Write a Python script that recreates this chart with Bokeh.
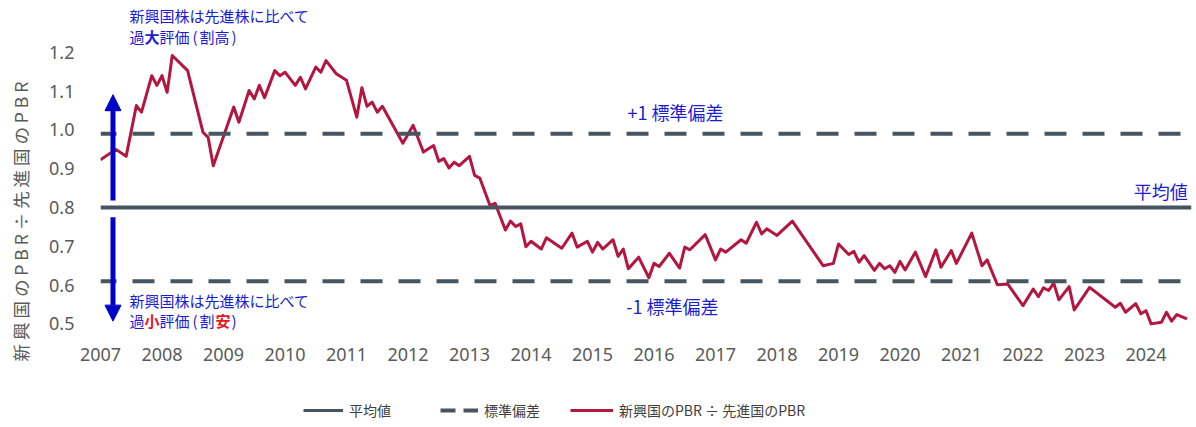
import math
from bokeh.plotting import figure
from bokeh.layouts import row, column
from bokeh.models import (Span, Label, Arrow, NormalHead, Legend, LegendItem,
                          FixedTicker, Range1d, PrintfTickFormatter, ColumnDataSource)
from bokeh.embed import file_html
from bokeh.resources import INLINE

# ---------------- data ----------------
dates = [
    "2007-01", "2007-04", "2007-06", "2007-08", "2007-09", "2007-11", "2007-12",
    "2008-01", "2008-02", "2008-03", "2008-06", "2008-09", "2008-10", "2008-11",
    "2009-03", "2009-04", "2009-06", "2009-07", "2009-08", "2009-09", "2009-11", "2009-12",
    "2010-01", "2010-03", "2010-04", "2010-05", "2010-07", "2010-08", "2010-09", "2010-11",
    "2011-01", "2011-03", "2011-04", "2011-05", "2011-06", "2011-07", "2011-08", "2011-12",
    "2012-02", "2012-04", "2012-06", "2012-07", "2012-08", "2012-09", "2012-10", "2012-11",
    "2013-01", "2013-02", "2013-03", "2013-05", "2013-06", "2013-08", "2013-09", "2013-10",
    "2013-11", "2013-12",
    "2014-01", "2014-03", "2014-04", "2014-07", "2014-09", "2014-10", "2014-12",
    "2015-01", "2015-02", "2015-03", "2015-05", "2015-06", "2015-07", "2015-08", "2015-10",
    "2015-12",
    "2016-01", "2016-02", "2016-04", "2016-06", "2016-07", "2016-08", "2016-11",
    "2017-01", "2017-02", "2017-03", "2017-06", "2017-07", "2017-09", "2017-10", "2017-11",
    "2018-01", "2018-04", "2018-10", "2018-12",
    "2019-01", "2019-03", "2019-04", "2019-05", "2019-06", "2019-08", "2019-09", "2019-10",
    "2019-11", "2019-12",
    "2020-01", "2020-02", "2020-04", "2020-06", "2020-08", "2020-09", "2020-11", "2020-12",
    "2021-03", "2021-05", "2021-06", "2021-08", "2021-10",
    "2022-01", "2022-03", "2022-04", "2022-05", "2022-06", "2022-07", "2022-08", "2022-10",
    "2022-11",
    "2023-02", "2023-07", "2023-08", "2023-09", "2023-11", "2023-12",
    "2024-01", "2024-02", "2024-04", "2024-05", "2024-06", "2024-07", "2024-09",
]
ratio = [
    0.923, 0.950, 0.932, 1.063, 1.046, 1.140, 1.115,
    1.140, 1.097, 1.192, 1.153, 0.994, 0.981, 0.908,
    1.059, 1.020, 1.102, 1.080, 1.115, 1.083, 1.153, 1.140,
    1.149, 1.115, 1.136, 1.106, 1.162, 1.149, 1.179, 1.145,
    1.128, 1.033, 1.109, 1.061, 1.072, 1.046, 1.061, 0.966,
    1.012, 0.943, 0.960, 0.919, 0.926, 0.902, 0.917, 0.908,
    0.932, 0.883, 0.876, 0.805, 0.811, 0.742, 0.765, 0.751,
    0.758, 0.699,
    0.713, 0.693, 0.722, 0.695, 0.734, 0.698, 0.713,
    0.685, 0.710, 0.693, 0.717, 0.674, 0.693, 0.642, 0.672,
    0.619,
    0.656, 0.648, 0.682, 0.644, 0.698, 0.691, 0.730,
    0.665, 0.693, 0.685, 0.717, 0.708, 0.762, 0.732, 0.745,
    0.728, 0.765, 0.650, 0.656,
    0.706, 0.679, 0.687, 0.659, 0.676, 0.638, 0.656, 0.642,
    0.650, 0.633,
    0.661, 0.639, 0.685, 0.622, 0.691, 0.646, 0.689, 0.656,
    0.734, 0.650, 0.665, 0.601, 0.603,
    0.547, 0.590, 0.570, 0.593, 0.586, 0.605, 0.562, 0.596,
    0.536,
    0.594, 0.543, 0.553, 0.530, 0.552, 0.526,
    0.534, 0.500, 0.504, 0.530, 0.507, 0.524, 0.513,
]
MEAN = 0.80
SD = 0.19
x_ticks = list(range(2007, 2025))
y_ticks = [0.5, 0.6, 0.7, 0.8, 0.9, 1.0, 1.1, 1.2]

series_label = "新興国のPBR ÷ 先進国のPBR"
mean_label = "平均値"
sd_label = "標準偏差"
y_title = "新 興 国 の P B R ÷ 先 進 国 の P B R"
upper_label = "+1 標準偏差"
lower_label = "-1 標準偏差"
over_line1 = "新興国株は先進株に比べて"
under_line1 = "新興国株は先進株に比べて"

# ---------------- styles ----------------
RED = "#B3163F"
SLATE = "#465560"
BLUE_TXT = "#1C1CD2"
BLUE_ARROW = "#0000CC"
RED_TXT = "#E8141E"
GRAY = "#5a5a5a"
JP = "Noto Sans CJK JP"


def bare(fig):
    fig.outline_line_color = None
    fig.xgrid.grid_line_color = None
    fig.ygrid.grid_line_color = None
    fig.background_fill_color = "white"
    fig.border_fill_color = "white"
    return fig


xs = [int(d[:4]) + (int(d[5:7]) - 1) / 12 for d in dates]
src = ColumnDataSource(dict(x=xs, y=ratio))

# ---------------- main chart ----------------
p = bare(figure(width=1156, height=375, output_backend="svg", toolbar_location=None,
                x_range=Range1d(2007.0, 2024.74), y_range=Range1d(0.470, 1.321),
                min_border_left=60, min_border_right=5, min_border_top=5,
                min_border_bottom=40))

for ax in (p.xaxis[0], p.yaxis[0]):
    ax.axis_line_color = None
    ax.major_tick_line_color = None
    ax.minor_tick_line_color = None
    ax.major_label_text_color = GRAY
    ax.major_label_text_font = "Noto Sans"
    ax.major_label_text_font_size = "18px"
p.xaxis.ticker = FixedTicker(ticks=x_ticks)
p.yaxis.ticker = FixedTicker(ticks=y_ticks)
p.yaxis.formatter = PrintfTickFormatter(format="%.1f")
p.xaxis.major_label_standoff = 6
p.yaxis.major_label_standoff = 20

# reference lines
p.add_layout(Span(location=MEAN, dimension="width", line_color=SLATE, line_width=4))
for loc in (MEAN + SD, MEAN - SD):
    p.add_layout(Span(location=loc, dimension="width", line_color=SLATE,
                      line_width=4, line_dash="22 16", line_dash_offset=6))

# series
p.line("x", "y", source=src, line_color=RED, line_width=3, line_join="round")

# arrows
XA = 2007.203
for y0, y1 in [(0.818, 1.091), (0.775, 0.507)]:
    p.add_layout(Arrow(x_start=XA, y_start=y0, x_end=XA, y_end=y1,
                       line_color=BLUE_ARROW, line_width=5,
                       end=NormalHead(size=16, fill_color=BLUE_ARROW,
                                      line_color=BLUE_ARROW, line_width=1)))


def lbl(fig, x, y, text, color=BLUE_TXT, size="18px", align="left", dx=0,
        bold=False, angle=0.0):
    fig.add_layout(Label(x=x, y=y, x_offset=dx, text=text, text_color=color,
                         text_font=JP, text_font_size=size, text_align=align,
                         text_baseline="middle", angle=angle,
                         text_font_style="bold" if bold else "normal"))


# line labels
lbl(p, 2016.35, 1.046, upper_label, align="center")
lbl(p, 2016.30, 0.547, lower_label, align="center")
lbl(p, 2024.68, 0.842, mean_label, align="right")

# top annotation
XT = 2007.47
lbl(p, XT, 1.295, over_line1, size="15px")
for t, dx, c, b in [("過", 0, BLUE_TXT, False), ("大", 15, BLUE_TXT, True),
                    ("評価", 30, BLUE_TXT, False), ("(", 63, BLUE_TXT, False),
                    ("割", 70, BLUE_TXT, False), ("高", 85, BLUE_TXT, False),
                    (")", 102, BLUE_TXT, False)]:
    lbl(p, XT, 1.241, t, color=c, size="15px", dx=dx, bold=b)

# bottom annotation
lbl(p, XT, 0.560, under_line1, size="15px")
for t, dx, c, b in [("過", 0, BLUE_TXT, False), ("小", 15, RED_TXT, True),
                    ("評価", 30, BLUE_TXT, False), ("(", 63, BLUE_TXT, False),
                    ("割", 70, BLUE_TXT, False), ("安", 86, RED_TXT, True),
                    (")", 102, BLUE_TXT, False)]:
    lbl(p, XT, 0.509, t, color=c, size="15px", dx=dx, bold=b)

# ---------------- y-axis title strip (full height) ----------------
tfig = bare(figure(width=40, height=427, output_backend="svg", toolbar_location=None,
                   x_range=Range1d(0, 40), y_range=Range1d(0, 427), min_border=0,
                   x_axis_location=None, y_axis_location=None))
lbl(tfig, 20, 206, y_title, color=GRAY, size="17.5px", align="center", angle=math.pi / 2)

# ---------------- legend strip ----------------
lfig = bare(figure(width=1156, height=52, output_backend="svg", toolbar_location=None,
                   x_range=Range1d(0, 1091), y_range=Range1d(0, 52),
                   min_border_left=60, min_border_right=5, min_border_top=0,
                   min_border_bottom=0, x_axis_location=None, y_axis_location=None))
# legend-only renderers, placed outside the visible range
r_mean = lfig.line([-100, -90], [-100, -100], line_color=SLATE, line_width=3)
r_sd = lfig.line([-100, -90], [-100, -100], line_color=SLATE, line_width=4, line_dash="15 8")
r_ser = lfig.line([-100, -90], [-100, -100], line_color=RED, line_width=3)

for r, name, vx, gw in [(r_mean, mean_label, 203, 40), (r_sd, sd_label, 340, 38),
                        (r_ser, series_label, 470, 43)]:
    leg = Legend(items=[LegendItem(label=name, renderers=[r])], location=(vx, 7),
                 orientation="horizontal", padding=0, margin=0, spacing=0,
                 glyph_width=gw, glyph_height=20, label_standoff=6,
                 label_text_font=JP, label_text_font_size="14px",
                 label_text_color="#404040", border_line_alpha=0,
                 background_fill_alpha=0)
    lfig.add_layout(leg, "center")

layout = row(tfig, column(p, lfig, spacing=0), spacing=0)

open("out.html", "w").write(file_html(layout, INLINE))
